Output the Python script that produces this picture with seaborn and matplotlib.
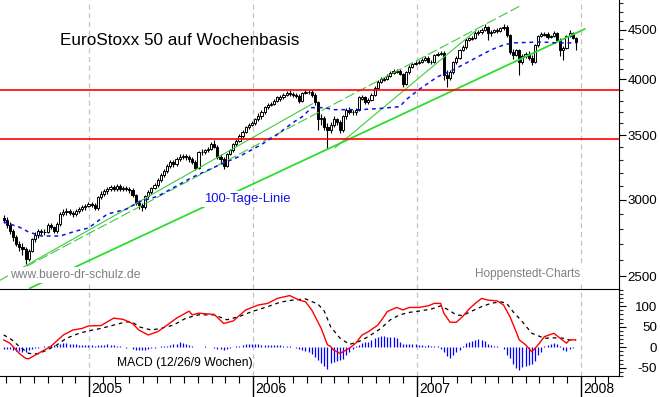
import pandas as pd
import numpy as np
import seaborn as sns
import matplotlib.pyplot as plt
import matplotlib.dates as mdates
import matplotlib.ticker as mticker
import matplotlib.transforms as mtransforms

plt.switch_backend('Agg')

# ---- data (weekly candles, EuroStoxx 50) ----
first_week = '2004-06-25'

opens = [2875, 2860, 2825, 2785, 2745, 2700, 2680, 2665, 2605, 2655,
         2730, 2755, 2785, 2775, 2780, 2825, 2810, 2785, 2830, 2900,
         2915, 2920, 2905, 2900, 2920, 2935, 2945, 2955, 2970, 2960,
         2940, 3020, 3045, 3060, 3075, 3090, 3075, 3100, 3075, 3085,
         3075, 3070, 3035, 2975, 2960, 2945, 3025, 3055, 3085, 3105,
         3145, 3180, 3210, 3255, 3280, 3265, 3305, 3325, 3330, 3320,
         3305, 3280, 3240, 3360, 3365, 3375, 3385, 3425, 3405, 3325,
         3305, 3255, 3345, 3375, 3425, 3455, 3495, 3530, 3565, 3590,
         3605, 3635, 3660, 3700, 3740, 3765, 3775, 3800, 3820, 3830,
         3855, 3875, 3865, 3855, 3845, 3800, 3875, 3880, 3885, 3855,
         3785, 3635, 3650, 3565, 3545, 3590, 3635, 3615, 3545, 3660,
         3720, 3700, 3695, 3720, 3820, 3830, 3785, 3810, 3855, 3920,
         3975, 3995, 4005, 4035, 4065, 4075, 4080, 4055, 3955, 4070,
         4120, 4150, 4160, 4170, 4190, 4210, 4165, 4170, 4240, 4250,
         4260, 4045, 4015, 4070, 4170, 4210, 4290, 4320, 4395, 4405,
         4415, 4470, 4480, 4500, 4530, 4470, 4480, 4500, 4490, 4520,
         4530, 4445, 4270, 4240, 4290, 4170, 4230, 4250, 4210, 4170,
         4340, 4435, 4450, 4460, 4425, 4435, 4470, 4395, 4290, 4310,
         4435, 4470, 4415]

closes = [2860, 2825, 2785, 2745, 2700, 2680, 2665, 2605, 2655, 2730,
          2755, 2785, 2775, 2780, 2825, 2810, 2785, 2830, 2900, 2915,
          2920, 2905, 2900, 2920, 2935, 2945, 2955, 2970, 2960, 2940,
          3020, 3045, 3060, 3075, 3090, 3075, 3100, 3075, 3085, 3075,
          3070, 3035, 2975, 2960, 2945, 3025, 3055, 3085, 3105, 3145,
          3180, 3210, 3255, 3280, 3265, 3305, 3325, 3330, 3320, 3305,
          3280, 3240, 3360, 3365, 3375, 3385, 3425, 3405, 3325, 3305,
          3255, 3345, 3375, 3425, 3455, 3495, 3530, 3565, 3590, 3605,
          3635, 3660, 3700, 3740, 3765, 3775, 3800, 3830, 3830, 3855,
          3875, 3865, 3855, 3845, 3800, 3875, 3885, 3885, 3855, 3785,
          3635, 3650, 3565, 3545, 3590, 3635, 3615, 3545, 3660, 3720,
          3700, 3695, 3720, 3830, 3830, 3785, 3810, 3855, 3920, 3975,
          4005, 4005, 4035, 4065, 4080, 4080, 4055, 3955, 4070, 4120,
          4150, 4160, 4170, 4190, 4210, 4170, 4170, 4240, 4250, 4260,
          4045, 4015, 4070, 4170, 4210, 4290, 4320, 4395, 4415, 4415,
          4470, 4480, 4500, 4530, 4470, 4480, 4500, 4490, 4520, 4530,
          4445, 4270, 4240, 4290, 4170, 4230, 4250, 4210, 4170, 4340,
          4435, 4460, 4460, 4425, 4435, 4470, 4395, 4290, 4310, 4435,
          4470, 4415, 4375]

highs = [2895, 2880, 2845, 2800, 2760, 2720, 2705, 2680, 2665, 2740,
         2775, 2800, 2800, 2795, 2840, 2840, 2820, 2845, 2915, 2935,
         2940, 2935, 2920, 2935, 2950, 2960, 2970, 2985, 2985, 2975,
         3030, 3060, 3075, 3090, 3105, 3110, 3115, 3115, 3100, 3100,
         3095, 3085, 3045, 2995, 2975, 3035, 3070, 3095, 3120, 3160,
         3195, 3225, 3270, 3295, 3295, 3320, 3345, 3350, 3350, 3335,
         3320, 3295, 3370, 3385, 3390, 3400, 3445, 3460, 3415, 3345,
         3320, 3355, 3390, 3435, 3470, 3510, 3545, 3580, 3605, 3625,
         3650, 3690, 3715, 3755, 3780, 3790, 3815, 3845, 3850, 3870,
         3890, 3895, 3880, 3870, 3860, 3885, 3900, 3895, 3895, 3870,
         3795, 3680, 3665, 3600, 3610, 3660, 3650, 3630, 3675, 3735,
         3740, 3720, 3735, 3845, 3850, 3845, 3825, 3870, 3935, 3990,
         4020, 4020, 4050, 4080, 4095, 4100, 4095, 4065, 4080, 4135,
         4160, 4175, 4185, 4205, 4225, 4225, 4190, 4250, 4265, 4275,
         4275, 4090, 4085, 4180, 4225, 4300, 4340, 4410, 4430, 4435,
         4485, 4500, 4520, 4560, 4545, 4495, 4515, 4520, 4535, 4560,
         4555, 4460, 4300, 4300, 4305, 4245, 4270, 4275, 4235, 4350,
         4450, 4480, 4480, 4475, 4450, 4490, 4480, 4410, 4330, 4445,
         4505, 4480, 4430]

lows = [2840, 2805, 2765, 2720, 2685, 2655, 2630, 2575, 2590, 2645,
        2710, 2740, 2755, 2755, 2770, 2795, 2770, 2770, 2820, 2885,
        2895, 2890, 2880, 2885, 2905, 2920, 2930, 2945, 2945, 2925,
        2930, 3005, 3030, 3045, 3060, 3060, 3060, 3060, 3060, 3060,
        3050, 3020, 2960, 2935, 2920, 2935, 3010, 3040, 3075, 3095,
        3130, 3165, 3195, 3240, 3245, 3255, 3290, 3310, 3300, 3285,
        3265, 3220, 3230, 3340, 3350, 3360, 3375, 3395, 3310, 3275,
        3225, 3245, 3335, 3365, 3410, 3440, 3480, 3520, 3550, 3575,
        3590, 3620, 3640, 3685, 3725, 3750, 3760, 3785, 3800, 3815,
        3840, 3845, 3835, 3825, 3780, 3790, 3860, 3865, 3835, 3760,
        3545, 3590, 3540, 3385, 3520, 3570, 3590, 3520, 3530, 3640,
        3680, 3670, 3675, 3710, 3805, 3770, 3770, 3795, 3840, 3905,
        3960, 3985, 3995, 4020, 4050, 4060, 4040, 3930, 3945, 4055,
        4105, 4135, 4145, 4155, 4175, 4155, 4150, 4160, 4225, 4235,
        3995, 3925, 3995, 4055, 4150, 4195, 4275, 4305, 4380, 4390,
        4400, 4450, 4460, 4485, 4390, 4440, 4465, 4470, 4475, 4505,
        4430, 4250, 4200, 4225, 4045, 4150, 4210, 4190, 4140, 4160,
        4325, 4420, 4440, 4405, 4410, 4420, 4380, 4230, 4190, 4300,
        4420, 4400, 4290]

# 100-Tage-Linie (week index, value)
ma_weeks = [0, 5, 8, 12, 15, 18, 23, 27, 33, 39, 43, 49, 56, 60, 69, 75, 82, 87, 92,
            95, 98, 102, 105, 110, 113, 119, 126, 128, 132, 138, 143, 149, 155, 159,
            162, 171, 176, 182]
ma_values = [2845, 2810, 2777, 2751, 2751, 2751, 2784, 2804, 2899, 2933, 2983, 3025,
             3113, 3165, 3264, 3327, 3423, 3505, 3607, 3659, 3738, 3738, 3720, 3720,
             3720, 3729, 3747, 3810, 3901, 4024, 4091, 4190, 4291, 4342, 4363, 4373,
             4363, 4363]

# MACD line (red) and signal line (black dashed)
macd_weeks = [0, 2, 5, 7, 8, 11, 15, 19, 22, 25, 27, 31, 33, 35, 38, 41, 43, 46, 49, 52,
              55, 59, 60, 62, 67, 70, 73, 77, 81, 84, 87, 91, 94, 96, 98, 101, 103, 104,
              105, 107, 110, 112, 114, 116, 119, 121, 122, 125, 127, 129, 132, 135, 137,
              139, 140, 142, 144, 146, 148, 150, 152, 154, 157, 159, 161, 163, 164, 166,
              168, 170, 172, 175, 177, 179, 180, 182]
macd_values = [18, 10, -15, -27, -28, -15, 2, 30, 42, 46, 52, 53, 62, 71, 68, 58, 42, 30,
               38, 54, 71, 88, 79, 83, 80, 58, 64, 91, 103, 107, 119, 126, 115, 111, 91,
               46, 6, 2, -7, -15, -2, 10, 30, 38, 54, 75, 87, 97, 91, 97, 97, 101, 107,
               107, 83, 61, 61, 75, 93, 107, 119, 115, 113, 103, 75, 38, 18, 6, -11, 6,
               26, 34, 22, 10, 18, 18]
signal_weeks = [0, 2, 5, 8, 11, 14, 17, 20, 24, 27, 31, 35, 39, 41, 43, 47, 50, 54, 58,
                62, 67, 71, 75, 79, 84, 88, 92, 96, 100, 102, 104, 107, 110, 113, 116,
                120, 123, 126, 129, 132, 136, 139, 141, 144, 146, 148, 152, 155, 158,
                160, 162, 165, 168, 172, 175, 178, 180, 182]
signal_values = [30, 22, 2, -15, -16, -6, 6, 22, 34, 40, 46, 54, 62, 61, 50, 42, 46, 54,
                 71, 79, 79, 67, 75, 87, 99, 110, 115, 118, 105, 88, 50, 22, 7, 14, 26,
                 46, 67, 79, 85, 88, 93, 101, 93, 79, 77, 85, 99, 107, 111, 107, 87, 62,
                 34, 22, 23, 22, 18, 18]
macd_hist = [-3, -3, -5, -7, -8, -10, -11, -11, -6, -4,
             -2, -1, 1, 2, 4, 5, 5, 6, 9, 10,
             10, 9, 8, 7, 6, 6, 6, 5, 5, 4,
             5, 6, 6, 7, 6, 6, 4, 2, 1, -1,
             0, -4, -6, -7, -7, -6, -4, -2, -1, 1,
             2, 4, 4, 6, 7, 9, 12, 10, 7, 5,
             2, 0, 0, 1, 2, 1, 0, -2, -3, -5,
             -6, -4, -2, 1, 2, 4, 5, 7, 8, 9,
             9, 7, 6, 6, 5, 5, 6, 6, 5, 4,
             3, 2, 0, -2, -4, -6, -8, -12, -17, -23,
             -30, -38, -46, -54, -39, -36, -33, -31, -28, -18,
             -12, -4, 2, 6, 10, 12, 13, 18, 22, 24,
             28, 28, 26, 24, 24, 22, 12, 7, 7, 7,
             7, 7, 6, 5, 4, 5, 4, 3, 2, -4,
             -12, -22, -27, -18, -12, -6, 2, 10, 13, 16,
             18, 19, 18, 16, 9, 6, 4, 2, 1, -5,
             -20, -26, -40, -50, -55, -48, -45, -42, -40, -33,
             -20, -12, 3, 6, 8, 10, 7, 3, -7, -9,
             -5, -1, 0]

# hand drawn trend lines (start date, start value, end date, end value)
trend_start = ['2004-08-22', '2004-06-17', '2004-08-16', '2006-07-02']
trend_start_val = [2428, 2475, 2560, 3394]
trend_end = ['2008-01-10', '2006-05-14', '2007-08-23', '2007-05-14']
trend_end_val = [4511, 3774, 4777, 4500]

red_levels = [3900, 3470]
price_ticks = [2500, 3000, 3500, 4000, 4500]
macd_ticks = [100, 50, 0, -50]
year_dates = ['2005-01-01', '2006-01-01', '2007-01-01', '2008-01-01']
year_labels = ['2005', '2006', '2007', '2008']

# ---- figure ----
sns.set_style('white')
plt.rcParams['font.family'] = ['Liberation Sans', 'DejaVu Sans']

W, H = 660, 397
fig = plt.figure(figsize=(W / 100, H / 100), dpi=100)
ax_p = fig.add_axes([0, 108 / H, 619 / W, 289 / H])
ax_m = fig.add_axes([0, 21 / H, 619 / W, 87 / H])

weeks = pd.date_range(first_week, periods=len(closes), freq='7D')
o = np.array(opens, dtype=float)
c = np.array(closes, dtype=float)
up = c >= o

x_left = pd.Timestamp('2004-06-17')
x_right = pd.Timestamp('2008-03-26')
years = pd.to_datetime(year_dates)

for ax in (ax_p, ax_m):
    ax.set_xlim(x_left, x_right)
    for d in years:
        ax.axvline(d, color='#c4c4c4', lw=0.9, ls=(0, (4, 3)), zorder=0.5)

# candles
ax_p.set_yscale('log')
ax_p.vlines(weeks, lows, highs, color='black', lw=0.8, zorder=2)
ax_p.bar(weeks, np.abs(c - o), bottom=np.minimum(o, c), width=4.8,
         color=np.where(up, 'white', 'black'), edgecolor='black', linewidth=0.7,
         zorder=3)

# trend lines
trend_styles = [dict(lw=1.3, ls='-', color='#2fdc2f'),
                dict(lw=0.8, ls='-', color='#3ccc3c'),
                dict(lw=0.8, ls=(0, (9, 3)), color='#3ccc3c'),
                dict(lw=0.8, ls='-', color='#3ccc3c')]
for s, sv, e, ev, st in zip(trend_start, trend_start_val, trend_end, trend_end_val,
                            trend_styles):
    ax_p.plot([pd.Timestamp(s), pd.Timestamp(e)], [sv, ev], zorder=4, **st)

for lvl in red_levels:
    ax_p.axhline(lvl, color='red', lw=1.2, zorder=4)

ma_df = pd.DataFrame({'date': weeks[ma_weeks], 'ma': ma_values})
sns.lineplot(data=ma_df, x='date', y='ma', ax=ax_p, color='#1010e8', lw=1.1,
             linestyle=(0, (2.5, 2.5)), zorder=4)

ax_p.set_ylim(2424, 4834)
ax_p.yaxis.tick_right()
ax_p.yaxis.set_major_locator(mticker.FixedLocator(price_ticks))
ax_p.yaxis.set_major_formatter(mticker.FixedFormatter([str(t) for t in price_ticks]))
ax_p.yaxis.set_minor_locator(mticker.FixedLocator(np.arange(2500, 4900, 100)))
ax_p.yaxis.set_minor_formatter(mticker.NullFormatter())
ax_p.tick_params(axis='y', which='major', length=5, width=0.8, pad=22.4,
                 labelsize=9.6, colors='black')
ax_p.tick_params(axis='y', which='minor', length=3, width=0.8)
ax_p.tick_params(axis='x', which='both', bottom=False, labelbottom=False)
ax_p.set_xlabel('')
ax_p.set_ylabel('')
for side in ('top', 'left', 'bottom'):
    ax_p.spines[side].set_visible(False)
ax_p.spines['right'].set_linewidth(0.8)
ax_p.spines['right'].set_color('black')

txt_bg = dict(facecolor='white', edgecolor='none', pad=1.5)
ax_p.text(60 / 619, 1 - 45 / 289, 'EuroStoxx 50 auf Wochenbasis', transform=ax_p.transAxes,
          fontsize=12.3, color='black', ha='left', va='baseline', zorder=6)
ax_p.text(10 / 619, 1 - 278 / 289, 'www.buero-dr-schulz.de', transform=ax_p.transAxes,
          fontsize=8.7, color='#808080', ha='left', va='baseline', bbox=txt_bg, zorder=6)
ax_p.text(580 / 619, 1 - 277.5 / 289, 'Hoppenstedt-Charts', transform=ax_p.transAxes,
          fontsize=8.5, color='#808080', ha='right', va='baseline', bbox=txt_bg, zorder=6)
ax_p.text(204 / 619, 1 - 202 / 289, '100-Tage-Linie', transform=ax_p.transAxes,
          fontsize=9.4, color='#1010e8', ha='left', va='baseline', bbox=txt_bg, zorder=6)

# MACD panel
ax_m.vlines(weeks, 0, macd_hist, color='#0000ff', lw=0.9, zorder=2)
macd_df = pd.DataFrame({'date': weeks[macd_weeks], 'macd': macd_values})
sig_df = pd.DataFrame({'date': weeks[signal_weeks], 'signal': signal_values})
sns.lineplot(data=sig_df, x='date', y='signal', ax=ax_m, color='black', lw=0.9,
             linestyle=(0, (3, 3)), zorder=3)
sns.lineplot(data=macd_df, x='date', y='macd', ax=ax_m, color='#ff0000', lw=1.0,
             zorder=4)
ax_m.text(117 / 619, 10 / 87, 'MACD (12/26/9 Wochen)', transform=ax_m.transAxes,
          fontsize=8.7, color='black', ha='left', va='baseline', zorder=6)

ax_m.set_ylim(-70, 142)
ax_m.yaxis.tick_right()
ax_m.yaxis.set_major_locator(mticker.FixedLocator(macd_ticks))
ax_m.yaxis.set_major_formatter(mticker.FixedFormatter([str(t) for t in macd_ticks]))
ax_m.yaxis.set_minor_locator(mticker.FixedLocator(np.arange(-70, 150, 10)))
ax_m.yaxis.set_minor_formatter(mticker.NullFormatter())
ax_m.tick_params(axis='y', which='major', length=5, width=0.8, pad=22.4,
                 labelsize=9.6, colors='black')
ax_m.tick_params(axis='y', which='minor', length=3, width=0.8)
ax_m.set_xlabel('')
ax_m.set_ylabel('')
ax_m.spines['left'].set_visible(False)
for side in ('top', 'bottom', 'right'):
    ax_m.spines[side].set_linewidth(0.8)
    ax_m.spines[side].set_color('black')

# x axis: monthly ticks, long year separators, year label right of the line
ax_m.xaxis.set_major_locator(mticker.FixedLocator(mdates.date2num(years)))
ax_m.xaxis.set_minor_locator(mdates.MonthLocator())
ax_m.xaxis.set_major_formatter(mticker.NullFormatter())
ax_m.xaxis.set_minor_formatter(mticker.NullFormatter())
ax_m.tick_params(axis='x', which='major', direction='out', length=15.2, width=1.0,
                 colors='black', bottom=True)
ax_m.tick_params(axis='x', which='minor', direction='out', length=5, width=0.8,
                 colors='black', bottom=True)

lab_tr = mtransforms.blended_transform_factory(ax_m.transData, fig.transFigure)
lab_tr = mtransforms.offset_copy(lab_tr, fig=fig, x=2, units='dots')
for d, lab in zip(years, year_labels):
    ax_m.text(d, 1 - 389 / H, lab, transform=lab_tr, fontsize=10, color='black',
              ha='left', va='center', clip_on=False)

for ax in (ax_p, ax_m):
    plt.setp(ax.get_yticklabels(), ha='right')

fig.savefig('out.png', dpi=100)
plt.close(fig)
